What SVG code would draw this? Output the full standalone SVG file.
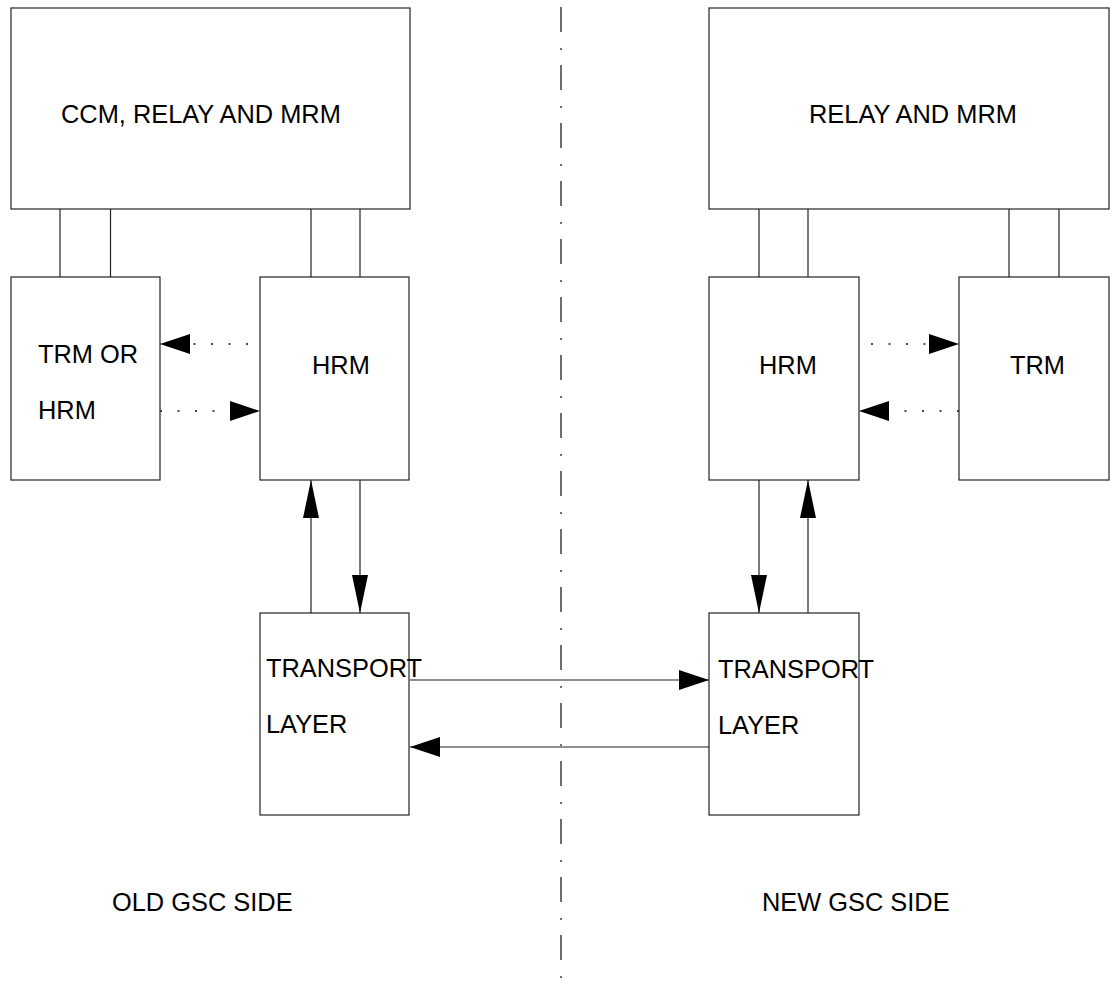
<svg xmlns="http://www.w3.org/2000/svg" width="1112" height="990" viewBox="0 0 1112 990">
<style>
.box{fill:#fff;stroke:#222;stroke-width:1.2}
.ln{fill:none;stroke:#222;stroke-width:1.2}
.dot{fill:none;stroke:#111;stroke-width:1.6;stroke-dasharray:2 15.5}
.lbl{font-family:"Liberation Sans",Arial,sans-serif;font-size:25.4px;fill:#000}
</style>
<defs>
<marker id="ah" markerUnits="userSpaceOnUse" markerWidth="30" markerHeight="20" refX="30" refY="10" orient="auto" viewBox="0 0 30 20">
<path d="M0,0 L30,10 L0,20 Z" fill="#000"/>
</marker>
<marker id="av" markerUnits="userSpaceOnUse" markerWidth="38" markerHeight="16" refX="38" refY="8" orient="auto" viewBox="0 0 38 16">
<path d="M0,0 L38,8 L0,16 Z" fill="#000"/>
</marker>
</defs>
<rect width="1112" height="990" fill="#fff"/>
<g id="divider">
<line x1="561" y1="7" x2="561" y2="990" stroke="#222" stroke-width="1.3" stroke-dasharray="25 16 2 15"/>
</g>
<g id="connectors">
<line class="ln" x1="60" y1="209" x2="60" y2="277"/>
<line class="ln" x1="110.5" y1="209" x2="110.5" y2="277"/>
<line class="ln" x1="311" y1="209" x2="311" y2="277"/>
<line class="ln" x1="360" y1="209" x2="360" y2="277"/>
<line class="ln" x1="759" y1="209" x2="759" y2="277"/>
<line class="ln" x1="808" y1="209" x2="808" y2="277"/>
<line class="ln" x1="1009" y1="209" x2="1009" y2="277"/>
<line class="ln" x1="1059" y1="209" x2="1059" y2="277"/>
<line class="dot" x1="248" y1="344" x2="160" y2="344" marker-end="url(#ah)"/>
<line class="dot" x1="160" y1="411" x2="260" y2="411" marker-end="url(#ah)"/>
<line class="dot" x1="871" y1="344" x2="959" y2="344" marker-end="url(#ah)"/>
<line class="dot" x1="959" y1="411" x2="859" y2="411" marker-end="url(#ah)"/>
<line class="ln" x1="311" y1="613" x2="311" y2="480" marker-end="url(#av)"/>
<line class="ln" x1="360" y1="480" x2="360" y2="613" marker-end="url(#av)"/>
<line class="ln" x1="759" y1="480" x2="759" y2="613" marker-end="url(#av)"/>
<line class="ln" x1="808" y1="613" x2="808" y2="480" marker-end="url(#av)"/>
<line class="ln" x1="410" y1="680" x2="709" y2="680" marker-end="url(#ah)"/>
<line class="ln" x1="709" y1="747" x2="410" y2="747" marker-end="url(#ah)"/>
</g>
<g id="old-top">
<rect class="box" x="11" y="8" width="399" height="201"/>
<text class="lbl" x="61" y="123">CCM, RELAY AND MRM</text>
</g>
<g id="old-trm">
<rect class="box" x="11" y="277" width="149" height="203"/>
<text class="lbl" x="38" y="363">TRM OR</text>
<text class="lbl" x="38" y="419">HRM</text>
</g>
<g id="old-hrm">
<rect class="box" x="260" y="277" width="149" height="203"/>
<text class="lbl" x="312" y="374">HRM</text>
</g>
<g id="old-transport">
<rect class="box" x="260" y="613" width="149" height="202"/>
<text class="lbl" x="266" y="677">TRANSPORT</text>
<text class="lbl" x="266" y="733">LAYER</text>
</g>
<g id="new-top">
<rect class="box" x="709" y="8" width="400" height="201"/>
<text class="lbl" x="809" y="123">RELAY AND MRM</text>
</g>
<g id="new-hrm">
<rect class="box" x="709" y="277" width="150" height="203"/>
<text class="lbl" x="759" y="374">HRM</text>
</g>
<g id="new-trm">
<rect class="box" x="959" y="277" width="150" height="203"/>
<text class="lbl" x="1010" y="374">TRM</text>
</g>
<g id="new-transport">
<rect class="box" x="709" y="613" width="150" height="202"/>
<text class="lbl" x="718" y="678">TRANSPORT</text>
<text class="lbl" x="718" y="734">LAYER</text>
</g>
<g id="old-side-label">
<text class="lbl" x="112" y="911">OLD GSC SIDE</text>
</g>
<g id="new-side-label">
<text class="lbl" x="762" y="911">NEW GSC SIDE</text>
</g>
</svg>
